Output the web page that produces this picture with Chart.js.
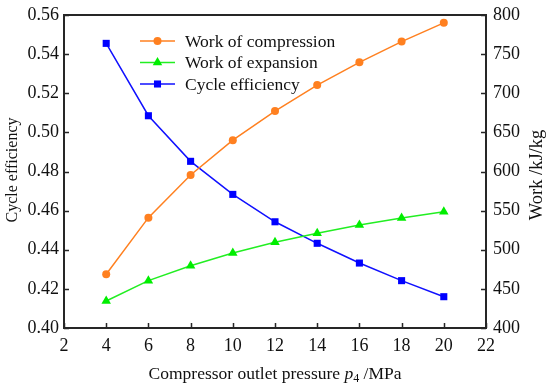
<!DOCTYPE html>
<html>
<head>
<meta charset="utf-8">
<script src="https://cdn.jsdelivr.net/npm/chart.js@4/dist/chart.umd.min.js"></script>
<style>
  html, body { margin: 0; padding: 0; background: #fff; }
  canvas { display: block; }
</style>
</head>
<body>
<canvas id="chart" width="550" height="390"></canvas>
<script>
'use strict'
const pressure = [4, 6, 8, 10, 12, 14, 16, 18, 20]
const workCompression = [468.6, 541, 595.5, 640, 677.3, 710.5, 739.5, 766, 790]
const workExpansion = [434.5, 460.5, 479.6, 495.8, 509.5, 521, 531.6, 540.6, 548.6]
const cycleEfficiency = [0.5455, 0.5085, 0.4852, 0.4683, 0.4543, 0.4433, 0.4332, 0.4242, 0.416]
const seriesNames = ['Work of compression', 'Work of expansion', 'Cycle efficiency']
const xTitle = ['Compressor outlet pressure ', 'p', '4', ' /MPa']
const leftTitle = 'Cycle efficiency'
const rightTitle = 'Work /kJ/kg'

const SERIF = '"Liberation Serif", "Times New Roman", serif'
const AXIS_COLOR = '#262626'

const toPoints = (ys) => ys.map((y, i) => ({ x: pressure[i], y: y }))

// inward ticks, box frame, custom legend and titles
const framePlugin = {
  id: 'frame',
  afterDatasetsDraw(chart) {
    const { ctx, chartArea: a, scales } = chart
    ctx.save()
    ctx.strokeStyle = AXIS_COLOR
    ctx.lineWidth = 1.5
    const tickLen = 5
    ctx.beginPath()
    scales.x.ticks.forEach((t) => {
      const px = Math.round(scales.x.getPixelForValue(t.value)) + 0.5
      ctx.moveTo(px, a.bottom)
      ctx.lineTo(px, a.bottom - tickLen)
    })
    scales.y.ticks.forEach((t) => {
      const py = Math.round(scales.y.getPixelForValue(t.value)) + 0.5
      ctx.moveTo(a.left, py)
      ctx.lineTo(a.left + tickLen, py)
    })
    scales.y2.ticks.forEach((t) => {
      const py = Math.round(scales.y2.getPixelForValue(t.value)) + 0.5
      ctx.moveTo(a.right, py)
      ctx.lineTo(a.right - tickLen, py)
    })
    ctx.stroke()
    ctx.lineWidth = 2
    ctx.strokeRect(a.left, a.top, a.right - a.left, a.bottom - a.top)

    // legend
    ctx.font = '17.5px ' + SERIF
    ctx.textBaseline = 'middle'
    ctx.textAlign = 'left'
    chart.data.datasets.forEach((ds, i) => {
      const y = a.top + 26 + i * 21.5
      const x0 = a.left + 76
      ctx.strokeStyle = ds.borderColor
      ctx.lineWidth = ds.borderWidth
      ctx.beginPath()
      ctx.moveTo(x0, y)
      ctx.lineTo(x0 + 35, y)
      ctx.stroke()
      ctx.fillStyle = ds.backgroundColor
      Chart.helpers.drawPoint(ctx, {
        pointStyle: ds.pointStyle,
        radius: ds.pointRadius,
        rotation: 0,
        borderWidth: 0,
      }, x0 + 17.5, y)
      ctx.fillStyle = '#111'
      ctx.fillText(ds.label, x0 + 45, y + 1)
    })

    // axis titles
    ctx.fillStyle = '#111'
    ctx.textAlign = 'center'
    ctx.save()
    ctx.font = '16px ' + SERIF
    ctx.translate(13, 170)
    ctx.rotate(-Math.PI / 2)
    ctx.fillText(leftTitle, 0, 0)
    ctx.restore()
    ctx.save()
    ctx.font = '18.5px ' + SERIF
    ctx.translate(537, 175)
    ctx.rotate(-Math.PI / 2)
    ctx.fillText(rightTitle, 0, 0)
    ctx.restore()

    // x title with italic p and subscript
    const fNorm = '17.5px ' + SERIF
    const fItal = 'italic 17.5px ' + SERIF
    const fSub = '12px ' + SERIF
    const parts = [
      [xTitle[0], fNorm, 0],
      [xTitle[1], fItal, 0],
      [xTitle[2], fSub, 5],
      [xTitle[3], fNorm, 0],
    ]
    let total = 0
    parts.forEach((p) => {
      ctx.font = p[1]
      total += ctx.measureText(p[0]).width
    })
    let x = (a.left + a.right) / 2 - total / 2
    ctx.textAlign = 'left'
    parts.forEach((p) => {
      ctx.font = p[1]
      ctx.fillText(p[0], x, 374 + p[2])
      x += ctx.measureText(p[0]).width
    })
    ctx.restore()
  },
}

const tickFont = { family: SERIF, size: 18 }

// fixed box sizes so the plot area sits where it does in the figure
const fixWidth = (s) => {
  s.width = 64
  s.paddingTop = 0
  s.paddingBottom = 0
}

const chart = new Chart(document.getElementById('chart').getContext('2d'), {
  type: 'line',
  data: {
    datasets: [
      {
        label: seriesNames[0],
        data: toPoints(workCompression),
        yAxisID: 'y2',
        borderColor: '#ff8020',
        backgroundColor: '#ff8020',
        borderWidth: 1.5,
        pointStyle: 'circle',
        pointRadius: 4,
        pointBorderWidth: 0,
      },
      {
        label: seriesNames[1],
        data: toPoints(workExpansion),
        yAxisID: 'y2',
        borderColor: '#22ee22',
        backgroundColor: '#00ee00',
        borderWidth: 1.5,
        pointStyle: 'triangle',
        pointRadius: 5.5,
        pointBorderWidth: 0,
      },
      {
        label: seriesNames[2],
        data: toPoints(cycleEfficiency),
        yAxisID: 'y',
        borderColor: '#1010ff',
        backgroundColor: '#0000ff',
        borderWidth: 1.5,
        pointStyle: 'rect',
        pointRadius: 5,
        pointBorderWidth: 0,
      },
    ],
  },
  options: {
    responsive: false,
    animation: false,
    layout: { padding: { top: 15, left: 0, right: 0, bottom: 0 } },
    plugins: { legend: { display: false }, tooltip: { enabled: false } },
    scales: {
      x: {
        type: 'linear',
        min: 2,
        max: 22,
        ticks: { stepSize: 2, color: '#111', font: tickFont, padding: 7, maxRotation: 0 },
        grid: { display: false, drawTicks: false },
        border: { display: false },
        afterFit: (s) => {
          s.height = 62
          s.paddingLeft = 0
          s.paddingRight = 0
        },
      },
      y: {
        position: 'left',
        min: 0.4,
        max: 0.56,
        ticks: { stepSize: 0.02, color: '#111', font: tickFont, padding: 5,
          callback: (v) => v.toFixed(2) },
        grid: { display: false, drawTicks: false },
        border: { display: false },
        afterFit: fixWidth,
      },
      y2: {
        position: 'right',
        min: 400,
        max: 800,
        ticks: { stepSize: 50, color: '#111', font: tickFont, padding: 7 },
        grid: { display: false, drawTicks: false },
        border: { display: false },
        afterFit: fixWidth,
      },
    },
  },
  plugins: [framePlugin],
})
</script>
</body>
</html>
